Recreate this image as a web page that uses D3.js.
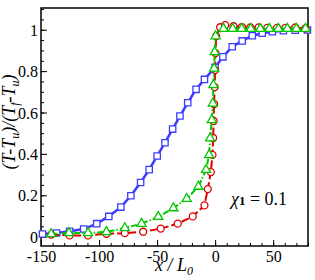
<!DOCTYPE html>
<html>
<head>
<meta charset="utf-8">
<script src="https://cdn.jsdelivr.net/npm/d3@7"></script>
<style>
  html, body { margin: 0; padding: 0; background: #fff; }
  svg { display: block; }
  svg text { font-family: "Times New Roman", Times, "Liberation Serif", "DejaVu Serif", serif !important; fill: #000; }
</style>
</head>
<body>
<svg id="chart" width="315" height="280"></svg>
<script>
// ---- data ----
const xTicks = [-150, -100, -50, 0, 50];
const yTicks = [0, 0.2, 0.4, 0.6, 0.8, 1];
const yTickLabels = ["0", "0.2", "0.4", "0.6", "0.8", "1"];

const blueX = [-148.7, -136.6, -125.3, -113.2, -102, -91.6, -81.2, -72.6, -64.2, -56.8, -49.9, -43.2, -36.6, -30.3, -23.6, -16.4, -9.2, 0, 6.7, 14.7, 23.3, 32, 40.6, 49.3, 58.8, 69, 79.5];
const blueY = [0.013, 0.018, 0.026, 0.037, 0.063, 0.098, 0.143, 0.198, 0.262, 0.324, 0.390, 0.454, 0.520, 0.583, 0.647, 0.712, 0.760, 0.818, 0.869, 0.918, 0.946, 0.971, 0.983, 0.990, 0.995, 0.998, 0.999];

const redX = [-141.2, -125.3, -109.5, -93.6, -77.8, -62.0, -46.9, -32.2, -19.3, -9.2, -6.3, -3.7, -2.3, -1.7, -1.3, -0.9, -0.4, 0, 0.3, 0.9, 4.3, 8.6, 15.8, 23.1, 30.3, 37.4, 44.9, 53.3, 60.5, 69.1, 77.8];
const redY = [0.010, 0.006, 0.006, 0.014, 0.017, 0.024, 0.039, 0.063, 0.098, 0.151, 0.230, 0.312, 0.395, 0.477, 0.559, 0.641, 0.723, 0.805, 0.887, 0.969, 1.012, 1.022, 1.017, 1.013, 1.011, 1.011, 1.009, 1.009, 1.009, 1.011, 1.006];

const greenX = [-141.2, -125.9, -109.5, -93.6, -77.8, -63.4, -49.0, -36.0, -24.5, -14.4, -7.8, -5.2, -4.3, -2.9, -2.0, -1.5, -0.9, -0.4, 0.4, 7.2, 15.1, 22.9, 30.7, 38.9, 46.7, 54.5, 62.2, 70.0, 77.8];
const greenY = [0.013, 0.018, 0.018, 0.023, 0.042, 0.063, 0.096, 0.138, 0.183, 0.242, 0.323, 0.395, 0.476, 0.564, 0.644, 0.733, 0.813, 0.892, 0.969, 1.005, 1.005, 1.005, 1.005, 1.005, 1.005, 1.005, 1.005, 1.005, 1.005];

// ---- layout ----
const svg = d3.select("#chart");
const L = 41, R = 308, T = 8, B = 246;
const x = d3.scaleLinear().domain([-150, 80]).range([L, R]);
const y = d3.scaleLinear().domain([-0.045, 1.105]).range([B, T]);

const xMinor = d3.range(-150, 81, 10);
const yMinor = d3.range(0, 1.101, 0.05);

const gx = svg.append("g").attr("transform", `translate(0,${B})`);
gx.call(d3.axisBottom(x).tickValues(xMinor).tickSize(-3).tickFormat(""));
gx.select(".domain").remove();
const gx2 = svg.append("g").attr("transform", `translate(0,${B})`);
gx2.call(d3.axisBottom(x).tickValues(xTicks).tickSize(-6).tickFormat(d => d));
gx2.select(".domain").remove();
gx2.selectAll("text").attr("dy", "0").attr("y", 16).style("font-size", "16px");

const gy = svg.append("g").attr("transform", `translate(${L},0)`);
gy.call(d3.axisLeft(y).tickValues(yMinor).tickSize(-3).tickFormat(""));
gy.select(".domain").remove();
const gy2 = svg.append("g").attr("transform", `translate(${L},0)`);
gy2.call(d3.axisLeft(y).tickValues(yTicks).tickSize(-6).tickFormat((d, i) => yTickLabels[i]));
gy2.select(".domain").remove();
gy2.selectAll("text").attr("x", -3).attr("dy", "0.35em").style("font-size", "16px");

svg.selectAll(".tick line").attr("stroke", "#000").attr("stroke-width", 1);

// frame
svg.append("rect").attr("x", L).attr("y", T).attr("width", R - L).attr("height", B - T)
  .attr("fill", "none").attr("stroke", "#000").attr("stroke-width", 1.5);

// series
const line = d3.line().x(d => x(d[0])).y(d => y(d[1]));
const series = [
  {xs: blueX, ys: blueY, color: "#3c3cff", dash: null, w: 2.5, marker: "square"},
  {xs: redX, ys: redY, color: "#dd0000", dash: "8,3", w: 2, marker: "circle"},
  {xs: greenX, ys: greenY, color: "#00c800", dash: "6,2,1.5,2", w: 2, marker: "triangle"}
];

series.forEach(s => {
  const pts = s.xs.map((v, i) => [v, s.ys[i]]);
  const g = svg.append("g");
  g.append("path").datum(pts).attr("d", line).attr("fill", "none")
    .attr("stroke", s.color).attr("stroke-width", s.w)
    .attr("stroke-dasharray", s.dash);
  const sym = s.marker === "square" ? d3.symbolSquare : s.marker === "circle" ? d3.symbolCircle : d3.symbolTriangle;
  const size = s.marker === "square" ? 40 : s.marker === "circle" ? 38 : 36;
  g.selectAll("path.m").data(pts).enter().append("path").attr("class", "m")
    .attr("d", d3.symbol().type(sym).size(size))
    .attr("transform", d => `translate(${x(d[0])},${y(d[1])})`)
    .attr("fill", "#fff").attr("stroke", s.color).attr("stroke-width", 1.3);
});

// annotation chi_1 = 0.1
const ann = svg.append("text").attr("x", 231).attr("y", 205).style("font-size", "18px");
ann.append("tspan").style("font-style", "italic").text("χ");
ann.append("tspan").style("font-weight", "bold").style("font-size", "13px").text("1");
ann.append("tspan").text(" = 0.1");

// x label
const xl = svg.append("text").attr("x", 174).attr("y", 271).attr("text-anchor", "middle")
  .style("font-size", "18px").style("font-style", "italic");
xl.append("tspan").text("x / L");
xl.append("tspan").attr("dy", 4).style("font-size", "12px").text("0");

// y label
const yl = svg.append("text").attr("transform", "translate(15,122) rotate(-90)")
  .attr("text-anchor", "middle").style("font-size", "18px").style("font-style", "italic");
yl.append("tspan").text("(T-T");
yl.append("tspan").attr("dy", 4).style("font-size", "12px").text("u");
yl.append("tspan").attr("dy", -4).text(")/(T");
yl.append("tspan").attr("dy", 4).style("font-size", "12px").text("f");
yl.append("tspan").attr("dy", -4).text("-T");
yl.append("tspan").attr("dy", 4).style("font-size", "12px").text("u");
yl.append("tspan").attr("dy", -4).text(")");
</script>
</body>
</html>
